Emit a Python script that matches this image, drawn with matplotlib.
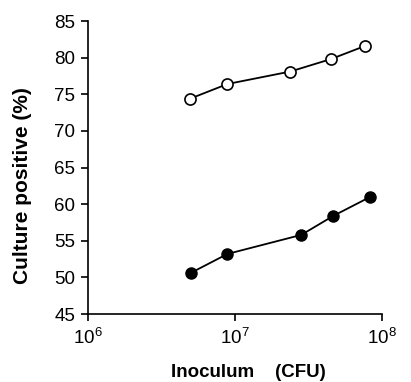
import numpy as np
import matplotlib.pyplot as plt

plt.rcParams['font.family'] = ['Liberation Sans', 'DejaVu Sans']

# inoculum (CFU) and % culture positive
x_open = [4.96e6, 8.9e6, 2.38e7, 4.5e7, 7.7e7]
y_open = [74.4, 76.4, 78.1, 79.8, 81.6]
x_filled = [5.0e6, 8.9e6, 2.83e7, 4.68e7, 8.36e7]
y_filled = [50.6, 53.2, 55.8, 58.4, 61.0]

fig = plt.figure(figsize=(4.11, 3.82), dpi=100)
ax = fig.add_axes([0.214, 0.178, 0.715, 0.767])

ax.plot(x_open, y_open, color='black', lw=1.3, marker='o', ms=8,
        mfc='white', mec='black', mew=1.2, clip_on=False)
ax.plot(x_filled, y_filled, color='black', lw=1.3, marker='o', ms=8,
        mfc='black', mec='black', clip_on=False)

ax.set_xscale('log')
ax.set_xlim(1e6, 1e8)
ax.set_ylim(45, 85)
ax.set_yticks(np.arange(45, 86, 5))
ax.set_xticks([1e6, 1e7, 1e8])
ax.xaxis.set_minor_locator(plt.NullLocator())

for s in ['top', 'right']:
    ax.spines[s].set_visible(False)
for s in ['left', 'bottom']:
    ax.spines[s].set_linewidth(1.2)
ax.tick_params(direction='out', length=5, width=1.2, labelsize=13.5)
ax.tick_params(axis='x', pad=5)
ax.tick_params(axis='y', pad=4)

ax.set_ylabel('Culture positive (%)', fontsize=15, fontweight='bold')
ax.yaxis.set_label_coords(-0.19, 0.44)
ax.set_xlabel('Inoculum    (CFU)', fontsize=13.5, fontweight='bold')
ax.xaxis.set_label_coords(0.545, -0.172)

fig.savefig('out.png', dpi=100)
